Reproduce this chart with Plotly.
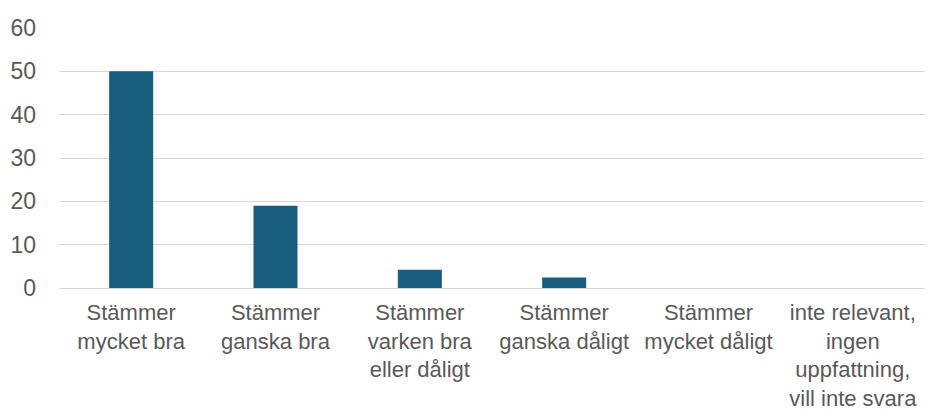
import plotly.graph_objects as go

categories = [
    "Stämmer mycket bra",
    "Stämmer ganska bra",
    "Stämmer varken bra eller dåligt",
    "Stämmer ganska dåligt",
    "Stämmer mycket dåligt",
    "inte relevant, ingen uppfattning, vill inte svara",
]
tick_labels = [
    "Stämmer<br>mycket bra",
    "Stämmer<br>ganska bra",
    "Stämmer<br>varken bra<br>eller dåligt",
    "Stämmer<br>ganska dåligt",
    "Stämmer<br>mycket dåligt",
    "inte relevant,<br>ingen<br>uppfattning,<br>vill inte svara",
]
values = [50, 19, 4.2, 2.4, 0, 0]
y_ticks = [0, 10, 20, 30, 40, 50, 60]

fig = go.Figure(
    go.Bar(
        x=categories,
        y=values,
        marker=dict(color="#185E7E", line=dict(width=0)),
        width=0.305,
        hoverinfo="skip",
    )
)

xfont = dict(family="Liberation Sans, Arial, Helvetica, sans-serif", size=22, color="#595959")
yfont = dict(family="Liberation Sans, Arial, Helvetica, sans-serif", size=23, color="#595959")

fig.update_layout(
    width=932,
    height=415,
    margin=dict(l=59, r=7, t=28, b=127),
    paper_bgcolor="white",
    plot_bgcolor="white",
    showlegend=False,
    font=yfont,
)
fig.update_xaxes(
    tickvals=categories,
    ticktext=tick_labels,
    tickangle=0,
    showgrid=False,
    showline=False,
    ticks="",
    tickfont=xfont,
    automargin=False,
    ticklabelstandoff=9,
)
fig.update_yaxes(
    range=[0, 60],
    tickvals=y_ticks,
    showgrid=True,
    gridcolor="#D9D9D9",
    gridwidth=1,
    zeroline=True,
    zerolinecolor="#D9D9D9",
    zerolinewidth=1,
    showline=False,
    ticks="",
    ticklabelstandoff=22,
    tickfont=yfont,
    automargin=False,
)

fig.write_html(
    "out.html",
    config={"displayModeBar": False},
    post_script="document.body.style.margin='0';document.body.style.overflow='hidden';",
)
